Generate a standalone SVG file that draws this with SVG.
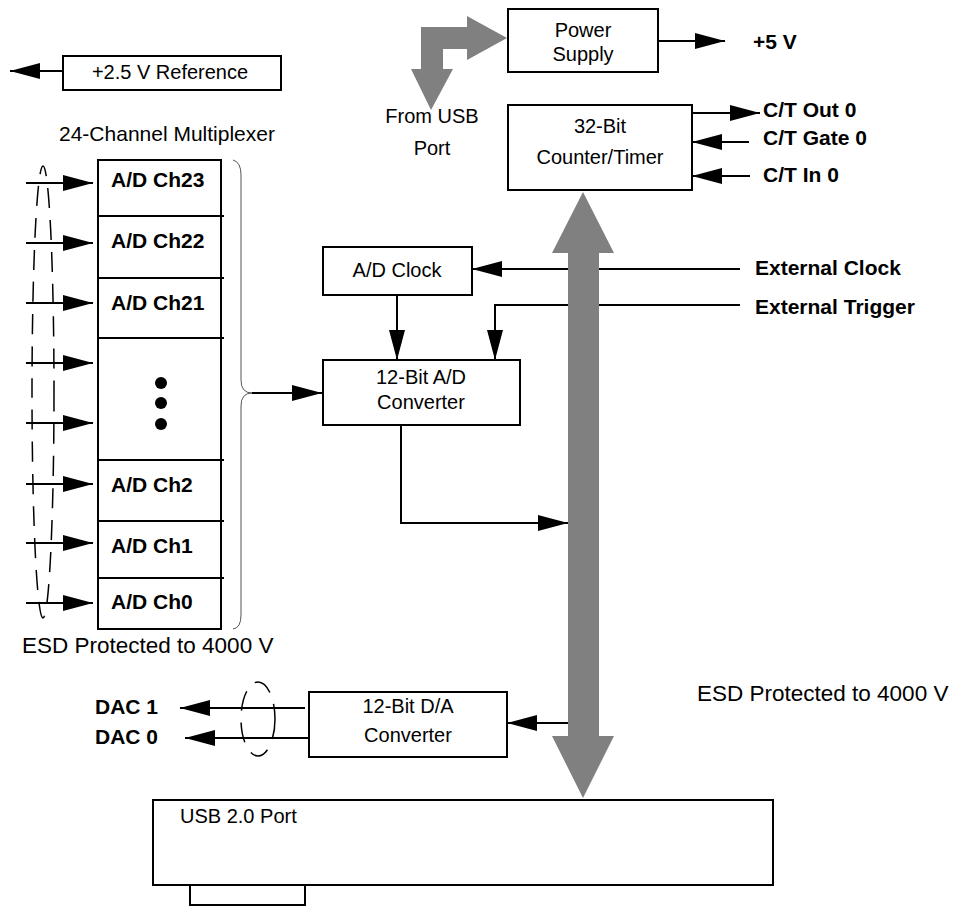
<svg xmlns="http://www.w3.org/2000/svg" width="967" height="907" viewBox="0 0 967 907">
<style>
.box{fill:#fff;stroke:#000;stroke-width:2}
.ln{fill:none;stroke:#000;stroke-width:2}
.t{font-family:"Liberation Sans",Arial,sans-serif;font-size:20px;fill:#000}
.b{font-family:"Liberation Sans",Arial,sans-serif;font-size:21px;font-weight:bold;fill:#000}
.esd{font-size:22.5px}
.c{text-anchor:middle}
.dash{fill:none;stroke:#000;stroke-width:1.5;stroke-dasharray:20 12}
.gray{fill:#808080;stroke:none}
</style>
<defs>
<marker id="ah" markerUnits="userSpaceOnUse" markerWidth="30" markerHeight="16" refX="30" refY="8" orient="auto">
<path d="M0,0 L30,8 L0,16 z" fill="#000"/>
</marker>
</defs>
<rect width="967" height="907" fill="#fff"/>

<g id="connectors">
<line class="ln" x1="63" y1="71" x2="10" y2="71" marker-end="url(#ah)"/>
<line class="ln" x1="658" y1="41" x2="725" y2="41" marker-end="url(#ah)"/>
<line class="ln" x1="692" y1="113" x2="760" y2="113" marker-end="url(#ah)"/>
<line class="ln" x1="749" y1="142" x2="692" y2="142" marker-end="url(#ah)"/>
<line class="ln" x1="750" y1="176" x2="692" y2="176" marker-end="url(#ah)"/>
<line class="ln" x1="740" y1="269" x2="472" y2="269" marker-end="url(#ah)"/>
<polyline class="ln" points="740,305 495,305 495,360" marker-end="url(#ah)"/>
<line class="ln" x1="397" y1="295" x2="397" y2="360" marker-end="url(#ah)"/>
<polyline class="ln" points="401,425 401,523 568,523" marker-end="url(#ah)"/>
<line class="ln" x1="252" y1="393" x2="322" y2="393" marker-end="url(#ah)"/>
<line class="ln" x1="568" y1="723" x2="507" y2="723" marker-end="url(#ah)"/>
<line class="ln" x1="305" y1="708" x2="180" y2="708" marker-end="url(#ah)"/>
<line class="ln" x1="309" y1="738" x2="185" y2="738" marker-end="url(#ah)"/>
<g id="inputs">
<line class="ln" x1="26" y1="183" x2="93" y2="183" marker-end="url(#ah)"/>
<line class="ln" x1="26" y1="243" x2="93" y2="243" marker-end="url(#ah)"/>
<line class="ln" x1="26" y1="303" x2="93" y2="303" marker-end="url(#ah)"/>
<line class="ln" x1="26" y1="363" x2="93" y2="363" marker-end="url(#ah)"/>
<line class="ln" x1="26" y1="423" x2="93" y2="423" marker-end="url(#ah)"/>
<line class="ln" x1="26" y1="484" x2="93" y2="484" marker-end="url(#ah)"/>
<line class="ln" x1="26" y1="543" x2="93" y2="543" marker-end="url(#ah)"/>
<line class="ln" x1="26" y1="603" x2="93" y2="603" marker-end="url(#ah)"/>
</g>
<ellipse class="dash" cx="43" cy="392" rx="11" ry="226"/>
<ellipse class="dash" cx="258" cy="719" rx="17" ry="37"/>
<path d="M233,160 Q241,162 241,175 L241,380 Q241,393 252,393 Q241,393 241,406 L241,615 Q241,628 233,629" fill="none" stroke="#555" stroke-width="1"/>
<path id="usb-arrow" class="gray" d="M421,69 L421,27 L467,27 L467,16 L507,38 L467,60 L467,49 L443,49 L443,69 L453,69 L431,110 L411,69 Z"/>
<path id="bus" class="gray" d="M583,192 L614,253 L599,253 L599,736 L614,736 L583,798 L552,736 L568,736 L568,253 L552,253 Z"/>
</g>

<g id="ref"><rect class="box" x="63" y="56" width="218" height="34"/><text class="t c" x="170" y="79">+2.5 V Reference</text></g>
<g id="power"><rect class="box" x="508" y="9" width="150" height="63"/><text class="t c" x="583" y="37">Power</text><text class="t c" x="583" y="61">Supply</text></g>
<text class="b" x="753" y="49">+5 V</text>
<g id="fromusb"><text class="t c" x="432" y="123">From USB</text><text class="t c" x="432" y="155">Port</text></g>
<g id="counter"><rect class="box" x="508" y="105" width="184" height="85"/><text class="t c" x="600" y="133">32-Bit</text><text class="t c" x="600" y="164">Counter/Timer</text></g>
<text class="b" x="763" y="117">C/T Out 0</text>
<text class="b" x="763" y="145">C/T Gate 0</text>
<text class="b" x="763" y="182">C/T In 0</text>
<text class="b" x="755" y="275">External Clock</text>
<text class="b" x="755" y="314">External Trigger</text>
<g id="adclock"><rect class="box" x="323" y="247" width="149" height="48"/><text class="t c" x="397" y="277">A/D Clock</text></g>
<g id="adc"><rect class="box" x="323" y="360" width="197" height="65"/><text class="t c" x="421" y="384">12-Bit A/D</text><text class="t c" x="421" y="409">Converter</text></g>

<text class="t c" x="167" y="141" style="font-size:21px">24-Channel Multiplexer</text>
<g id="mux">
<rect class="box" x="98" y="160" width="123" height="469"/>
<line class="ln" x1="98" y1="216" x2="224" y2="216"/>
<line class="ln" x1="98" y1="278" x2="224" y2="278"/>
<line class="ln" x1="98" y1="338" x2="224" y2="338"/>
<line class="ln" x1="98" y1="460" x2="224" y2="460"/>
<line class="ln" x1="98" y1="521" x2="224" y2="521"/>
<line class="ln" x1="98" y1="578" x2="224" y2="578"/>
<text class="b" x="111" y="187">A/D Ch23</text>
<text class="b" x="111" y="248">A/D Ch22</text>
<text class="b" x="111" y="310">A/D Ch21</text>
<circle cx="161" cy="383" r="6"/>
<circle cx="161" cy="403" r="6"/>
<circle cx="161" cy="424" r="6"/>
<text class="b" x="111" y="492">A/D Ch2</text>
<text class="b" x="111" y="553">A/D Ch1</text>
<text class="b" x="111" y="609">A/D Ch0</text>
</g>
<text class="t esd" x="22" y="653">ESD Protected to 4000 V</text>
<text class="t esd" x="697" y="701">ESD Protected to 4000 V</text>
<g id="dac"><rect class="box" x="309" y="692" width="198" height="65"/><text class="t c" x="408" y="713">12-Bit D/A</text><text class="t c" x="408" y="742">Converter</text></g>
<text class="b" x="95" y="714">DAC 1</text>
<text class="b" x="95" y="744">DAC 0</text>
<g id="usbport"><rect class="box" x="153" y="800" width="620" height="85"/><rect class="box" x="190" y="885" width="115" height="20"/><text class="t" x="180" y="823">USB 2.0 Port</text></g>
</svg>
